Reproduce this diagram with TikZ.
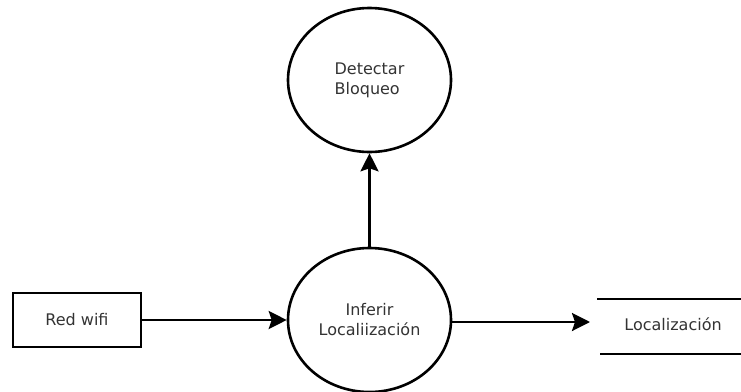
\documentclass[tikz,border=0pt]{standalone}
\usepackage{fontspec}
\setmainfont{DejaVu Sans}
\usetikzlibrary{arrows.meta,shapes.geometric}
\begin{document}
\begin{tikzpicture}[x=1pt,y=-1pt,
  every node/.style={font=\fontsize{16}{20}\selectfont, text=black!80},
  process/.style={draw, ellipse, line width=2.6pt, minimum width=163pt, minimum height=144pt, inner sep=0pt},
  entity/.style={draw, rectangle, line width=2.6pt, minimum width=128pt, minimum height=54pt, inner sep=0pt},
  flow/.style={line width=2.6pt, -{Stealth[length=18pt,width=18pt,inset=3pt]}},
  storeline/.style={line width=2.6pt}]
\useasboundingbox (0,0) rectangle (741,391);
\node[process, align=left] (det) at (369.5,80) {Detectar\\Bloqueo};
\node[process, align=center] (inf) at (369.5,320) {Inferir\\Localiizaci\'on};
\node[entity] (red) at (77,320) {Red wifi};
\node (loc) at (673,324) {Localizaci\'on};
\coordinate (st1) at (597,299);
\coordinate (st2) at (741,299);
\coordinate (sb1) at (600,354);
\coordinate (sb2) at (741,354);
\draw[storeline] (st1) -- (st2);
\draw[storeline] (sb1) -- (sb2);
\coordinate (locin) at (590,322);
\draw[flow] (red.east) -- (inf.west);
\draw[flow] (inf.north) -- (det.south);
\draw[flow] (inf.east |- locin) -- (locin);
\end{tikzpicture}
\end{document}
